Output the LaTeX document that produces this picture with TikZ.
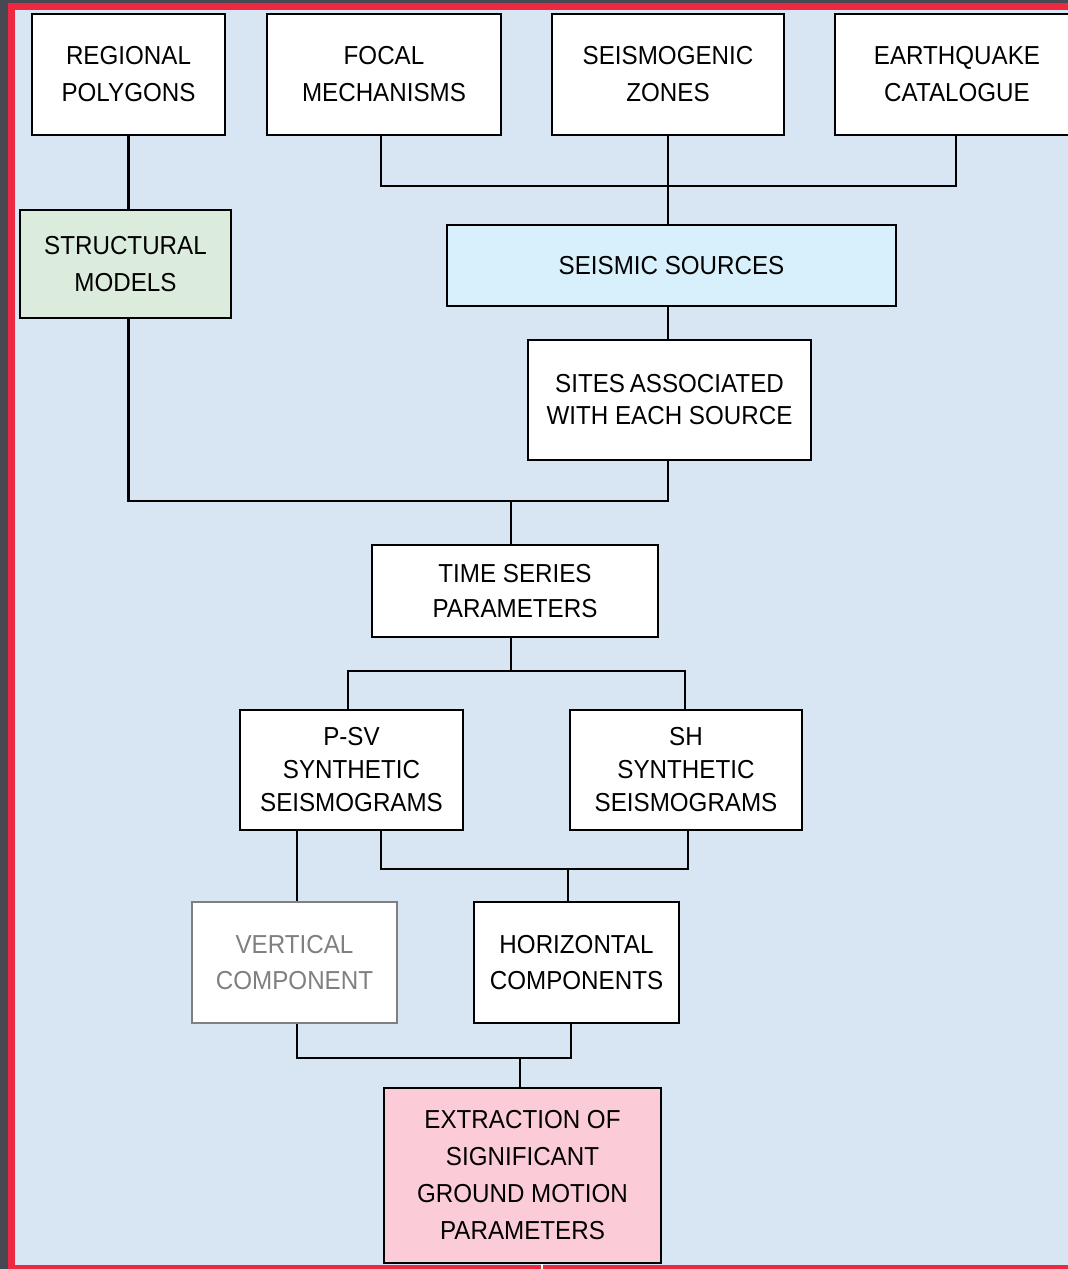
\documentclass[tikz,border=0pt]{standalone}
\usepackage{fontspec}
\setmainfont{Liberation Sans}[FakeStretch=0.93]
\definecolor{outer}{RGB}{72,72,82}
\definecolor{frame}{RGB}{238,40,64}
\definecolor{bgblue}{RGB}{216,230,244}
\definecolor{srcblue}{RGB}{216,240,252}
\definecolor{strgreen}{RGB}{220,236,220}
\definecolor{expink}{RGB}{252,203,216}
\definecolor{greyline}{RGB}{128,128,128}
\tikzset{
  box/.style={draw=black, line width=2.8pt, fill=white, inner sep=0pt, align=center,
    font=\fontsize{26}{37}\selectfont},
  conn/.style={draw=black, line width=2.8pt},
}
\begin{document}
\begin{tikzpicture}[x=1pt,y=-1pt]
\useasboundingbox (0,0) rectangle (1068,1269);
\clip (0,0) rectangle (1068,1269);
% background
\fill[outer] (0,0) rectangle (1068,1269);
\fill[frame] (8,3) rectangle (1090,1290);
\fill[bgblue] (15,10) rectangle (1090,1265);

% nodes
\node[box, minimum width=193, minimum height=121] (rp) at (128.5,74.5) {REGIONAL\\POLYGONS};
\node[box, minimum width=234, minimum height=121] (fm) at (384,74.5) {FOCAL\\MECHANISMS};
\node[box, minimum width=232, minimum height=121] (sz) at (668,74.5) {SEISMOGENIC\\ZONES};
\node[box, minimum width=244, minimum height=121] (ec) at (957,74.5) {EARTHQUAKE\\CATALOGUE};
\node[box, fill=strgreen, minimum width=211, minimum height=108] (sm) at (125.5,264) {STRUCTURAL\\MODELS};
\node[box, fill=srcblue, minimum width=449, minimum height=81] (ss) at (671.5,265.5) {SEISMIC SOURCES};
\node[box, minimum width=283, minimum height=120, font=\fontsize{26}{32}\selectfont] (sites) at (669.5,400) {SITES\kern-2pt\ ASSOCIATED\\WITH EACH SOURCE};
\node[box, minimum width=286, minimum height=92, font=\fontsize{26}{35}\selectfont] (ts) at (515,591) {TIME SERIES\\PARAMETERS};
\node[box, minimum width=223, minimum height=120, font=\fontsize{26}{33}\selectfont] (psv) at (351.5,770) {P-SV\\SYNTHETIC\\SEISMOGRAMS};
\node[box, minimum width=232, minimum height=120, font=\fontsize{26}{33}\selectfont] (sh) at (686,770) {SH\\SYNTHETIC\\SEISMOGRAMS};
\node[box, draw=greyline, text=greyline, minimum width=205, minimum height=121, font=\fontsize{26}{36}\selectfont] (vc) at (294.5,962.5) {VERTICAL\\COMPONENT};
\node[box, minimum width=205, minimum height=121, font=\fontsize{26}{36}\selectfont] (hc) at (576.5,962.5) {HORIZONTAL\\COMPONENTS};
\node[box, fill=expink, minimum width=277, minimum height=175] (ex) at (522.5,1175.5) {EXTRACTION OF\\SIGNIFICANT\\GROUND MOTION\\PARAMETERS};

% junctions
\coordinate (j1) at (668,186);
\coordinate (j2) at (511,501);
\coordinate (j3) at (511,671);
\coordinate (j4) at (568,869);
\coordinate (j5) at (520,1058);
\coordinate (pl) at (381,830);
\coordinate (tick) at (542,1269);

% connectors
\draw[conn] (rp.south) -- (rp.south |- sm.north);
\draw[conn] (fm.south -| pl) |- (j1) -| (ec.south -| 956,0);
\draw[conn] (sz.south) -- (sz.south |- ss.north);
\draw[conn] (sz.south |- ss.south) -- (sz.south |- sites.north);
\draw[conn] (sm.south -| rp.south) |- (j2) -| (sz.south |- sites.south);
\draw[conn] (j2) -- (j2 |- ts.north);
\draw[conn] (j2 |- ts.south) -- (j3);
\draw[conn] (psv.north -| 348,0) |- (j3) -| (sh.north -| 685,0);
\draw[conn] (psv.south -| 297,0) -- (vc.north -| 297,0);
\draw[conn] (pl) |- (j4) -| (sh.south -| 688,0);
\draw[conn] (j4) -- (j4 |- hc.north);
\draw[conn] (vc.south -| 297,0) |- (j5) -| (hc.south -| 571,0);
\draw[conn] (j5) -- (j5 |- ex.north);
\draw[draw=white, line width=2.8pt] (ex.south -| tick) -- (tick);
\end{tikzpicture}
\end{document}
